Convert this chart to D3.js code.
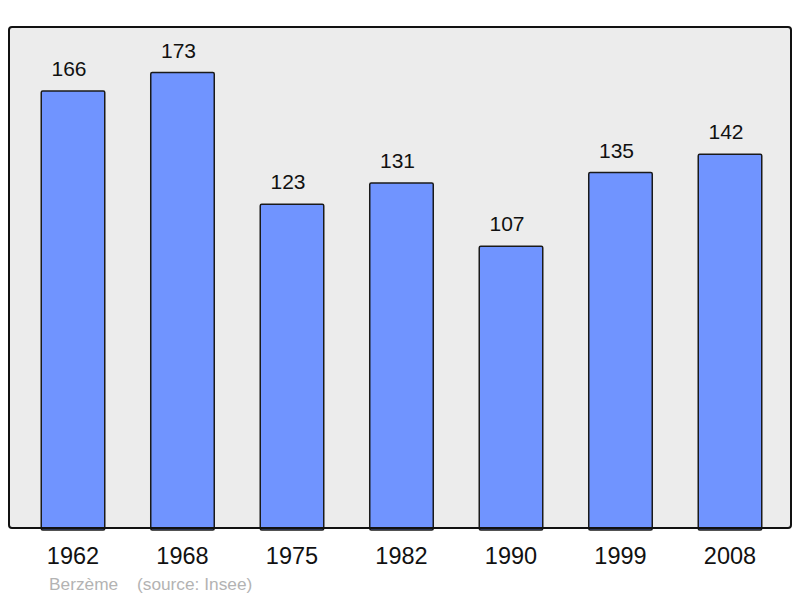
<!DOCTYPE html>
<html lang="fr">
  <head>
    <meta charset="utf-8">
    <title>Berzème - population</title>
    <script src="https://d3js.org/d3.v7.min.js"></script>
    <style>
      body { margin: 0; background: #fff; }
      text { font-family: "Liberation Sans", Arial, sans-serif; }
    </style>
  </head>
  <body>
    <div id="chart"></div>
    <script type="text/javascript">
      // données
      var annees = ["1962", "1968", "1975", "1982", "1990", "1999", "2008"];
      var population = [166, 173, 123, 131, 107, 135, 142];
      var commune = "Berzème";
      var source = "(source: Insee)";

      var largeur = 800, hauteur = 598;
      var cadre = {left: 9, top: 27, right: 791, bottom: 528};

      var svg = d3.select("#chart").append("svg")
                  .attr("width", largeur)
                  .attr("height", hauteur);

      var dados = annees.map((a, i) => ({annee: a, pop: population[i]}));

      var x = d3.scaleBand()
                .domain(annees)
                .range([18.25, 784.75])
                .paddingInner(0.42)
                .paddingOuter(0.21);

      var y = d3.scaleLinear()
                .domain([0, d3.max(population) * 1.1])
                .range([cadre.bottom, cadre.top]);

      // fond du graphique
      svg.append("rect")
        .attr("x", cadre.left)
        .attr("y", cadre.top)
        .attr("width", cadre.right - cadre.left)
        .attr("height", cadre.bottom - cadre.top)
        .attr("rx", 3)
        .attr("fill", "#ececec")
        .attr("stroke", "none");

      // barres
      svg.selectAll("rect.barre")
        .data(dados)
        .enter()
        .append("rect")
          .attr("class", "barre")
          .attr("x", d => x(d.annee))
          .attr("y", d => y(d.pop))
          .attr("width", x.bandwidth())
          .attr("height", d => y(0) - y(d.pop) + 2)
          .attr("rx", 1.5)
          .attr("fill", "#7094ff")
          .attr("stroke", "#1a1a1a")
          .attr("stroke-width", 1.5);

      // bordure
      svg.append("rect")
        .attr("x", cadre.left)
        .attr("y", cadre.top)
        .attr("width", cadre.right - cadre.left)
        .attr("height", cadre.bottom - cadre.top)
        .attr("rx", 3)
        .attr("fill", "none")
        .attr("stroke", "#111")
        .attr("stroke-width", 2);

      // valeurs (légèrement décalées à gauche comme l'original)
      svg.selectAll("text.valeur")
        .data(dados)
        .enter()
        .append("text")
          .attr("class", "valeur")
          .attr("x", d => x(d.annee) + x.bandwidth() / 2 - 4)
          .attr("y", d => y(d.pop) - 15)
          .attr("text-anchor", "middle")
          .attr("font-size", 21)
          .attr("fill", "#111")
          .text(d => d.pop);

      // axe des années
      var axeX = d3.axisBottom(x).tickSize(0).tickPadding(0);
      var gAxe = svg.append("g")
        .attr("transform", "translate(0," + cadre.bottom + ")")
        .call(axeX);
      gAxe.select(".domain").remove();
      gAxe.selectAll("text")
        .attr("dy", null)
        .attr("y", 36)
        .attr("font-size", 23.5)
        .attr("font-family", "'Liberation Sans', Arial, sans-serif")
        .attr("fill", "#111");

      // source
      svg.append("text")
        .attr("x", 49)
        .attr("y", 590)
        .attr("font-size", 17.3)
        .attr("fill", "#b3b3b3")
        .text(commune);
      svg.append("text")
        .attr("x", 137)
        .attr("y", 590)
        .attr("font-size", 17.3)
        .attr("fill", "#b3b3b3")
        .text(source);
    </script>
  </body>
</html>
